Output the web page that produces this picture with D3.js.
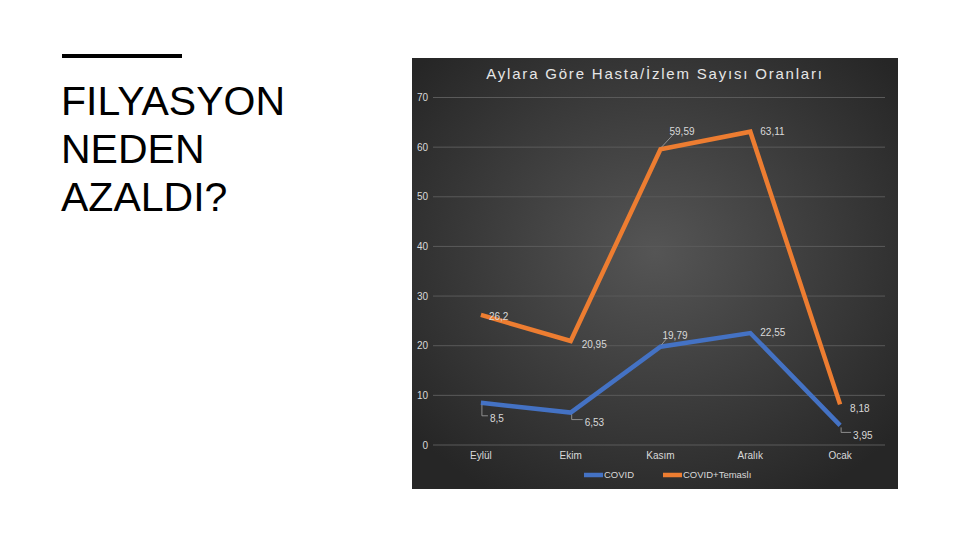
<!DOCTYPE html>
<html>
<head>
<meta charset="utf-8">
<script src="https://cdn.jsdelivr.net/npm/d3@7"></script>
<style>
  html, body { margin: 0; padding: 0; background: #fff; }
  svg { display: block; font-family: "Liberation Sans", Arial, sans-serif; }
</style>
</head>
<body>
<svg id="chart" width="960" height="540"></svg>
<script>
// data
var months = ["Eylül", "Ekim", "Kasım", "Aralık", "Ocak"];
var covid = [8.5, 6.53, 19.79, 22.55, 3.95];
var covidTemasli = [26.2, 20.95, 59.59, 63.11, 8.18];
var seriesNames = ["COVID", "COVID+Temaslı"];
var seriesColors = ["#4472C4", "#ED7D31"];
var yTicks = [0, 10, 20, 30, 40, 50, 60, 70];
var labelText = [["8,5", "6,53", "19,79", "22,55", "3,95"], ["26,2", "20,95", "59,59", "63,11", "8,18"]];

// where each data label sits relative to its point (dx, dy), and whether it gets a leader line
var labelOffsets = [
  [[9, 16, 1], [14, 10, 1], [2, -11, 1], [10, -1, 0], [13, 10, 1]],
  [[8, 2, 0], [11, 4, 0], [9, -18, 1], [10, 0, 0], [10, 4, 0]]
];

var svg = d3.select("#chart");

// left side heading
svg.append("rect")
  .attr("x", 62).attr("y", 54).attr("width", 120).attr("height", 4)
  .attr("fill", "#000");

var heading = ["FILYASYON", "NEDEN", "AZALDI?"];
heading.forEach(function(t, i) {
  svg.append("text")
    .attr("x", 61)
    .attr("y", 115 + i * 48)
    .attr("font-size", 41)
    .attr("fill", "#000")
    .text(t);
});

// chart panel
var panel = { x: 412, y: 58, w: 486, h: 431 };

var defs = svg.append("defs");
var grad = defs.append("radialGradient")
  .attr("id", "bg")
  .attr("cx", "50%").attr("cy", "45%").attr("r", "65%");
grad.append("stop").attr("offset", "0%").attr("stop-color", "#555555");
grad.append("stop").attr("offset", "100%").attr("stop-color", "#262626");

svg.append("rect")
  .attr("x", panel.x).attr("y", panel.y)
  .attr("width", panel.w).attr("height", panel.h)
  .attr("fill", "url(#bg)");

svg.append("text")
  .attr("x", 655)
  .attr("y", 79)
  .attr("text-anchor", "middle")
  .attr("font-size", 15)
  .attr("letter-spacing", 1.8)
  .attr("fill", "#e6e6e6")
  .text("Aylara Göre Hasta/İzlem Sayısı Oranları");

var x = d3.scaleBand().domain(months).range([436, 885]);
var y = d3.scaleLinear().domain([0, 70]).range([445, 97.5]);

// gridlines
svg.append("g")
  .selectAll("line")
  .data(yTicks)
  .enter()
  .append("line")
  .attr("x1", 433).attr("x2", 885)
  .attr("y1", function(d) { return y(d); })
  .attr("y2", function(d) { return y(d); })
  .attr("stroke", "#5a5a5a")
  .attr("stroke-width", 1);

// y axis labels
var yAxis = d3.axisLeft(y).tickValues(yTicks).tickSize(0).tickPadding(0);
var yg = svg.append("g")
  .attr("transform", "translate(428,0)")
  .call(yAxis);
yg.select(".domain").remove();
yg.selectAll("text")
  .attr("fill", "#d9d9d9")
  .attr("font-size", 10)
  .attr("font-family", "Liberation Sans, Arial, sans-serif");

// x axis labels
var xAxis = d3.axisBottom(x).tickSize(0).tickPadding(0);
var xg = svg.append("g")
  .attr("transform", "translate(0,452)")
  .call(xAxis);
xg.select(".domain").remove();
xg.selectAll("text")
  .attr("fill", "#d9d9d9")
  .attr("font-size", 10)
  .attr("font-family", "Liberation Sans, Arial, sans-serif");

var cx = function(i) { return x(months[i]) + x.bandwidth() / 2; };

var line = d3.line()
  .x(function(d, i) { return cx(i); })
  .y(function(d) { return y(d); });

[covid, covidTemasli].forEach(function(vals, s) {
  svg.append("path")
    .datum(vals)
    .attr("d", line)
    .attr("fill", "none")
    .attr("stroke", seriesColors[s])
    .attr("stroke-width", 4.5)
    .attr("stroke-linejoin", "miter");
});

// data labels
[covid, covidTemasli].forEach(function(vals, s) {
  var g = svg.append("g");
  vals.forEach(function(v, i) {
    var px = cx(i), py = y(v);
    var o = labelOffsets[s][i];
    var tx = px + o[0], ty = py + o[1];
    if (o[2]) {
      var lead;
      if (o[1] > 0) {
        lead = [[px + 1, py + 2], [px + 1, ty - 3], [tx - 2, ty - 3]];
      } else {
        lead = [[px + 1, py - 2], [tx + 4, ty + 3]];
      }
      g.append("path")
        .attr("d", d3.line()(lead))
        .attr("fill", "none")
        .attr("stroke", "#a6a6a6")
        .attr("stroke-width", 0.8);
    }
    g.append("text")
      .attr("x", tx)
      .attr("y", ty)
      .attr("dy", "0.35em")
      .attr("font-size", 10)
      .attr("fill", "#d9d9d9")
      .text(labelText[s][i]);
  });
});

// legend
var legend = svg.append("g").attr("transform", "translate(584,475)");
var legendX = [0, 79];
seriesNames.forEach(function(name, i) {
  legend.append("line")
    .attr("x1", legendX[i]).attr("x2", legendX[i] + 19)
    .attr("y1", 0).attr("y2", 0)
    .attr("stroke", seriesColors[i])
    .attr("stroke-width", 4.5);
  legend.append("text")
    .attr("x", legendX[i] + 20)
    .attr("y", 0)
    .attr("dy", "0.35em")
    .attr("font-size", 9.5)
    .attr("fill", "#d9d9d9")
    .text(name);
});
</script>
</body>
</html>
